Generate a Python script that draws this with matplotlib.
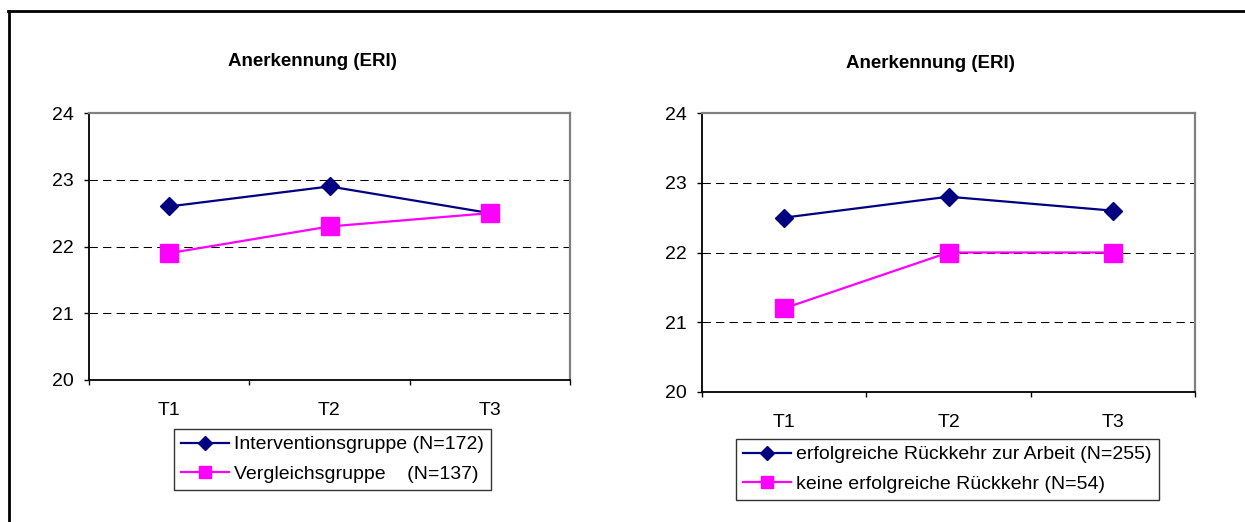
import matplotlib
matplotlib.use("Agg")
import matplotlib.pyplot as plt
from matplotlib.lines import Line2D

plt.rcParams['font.family'] = ['Liberation Sans', 'DejaVu Sans']

# Data
times = ["T1", "T2", "T3"]
yticks = [20, 21, 22, 23, 24]
title = "Anerkennung (ERI)"

left_labels = ["Interventionsgruppe (N=172)", "Vergleichsgruppe    (N=137)"]
left_interv = [22.6, 22.9, 22.5]
left_vergl = [21.9, 22.3, 22.5]

right_labels = ["erfolgreiche Rückkehr zur Arbeit (N=255)",
                "keine erfolgreiche Rückkehr (N=54)"]
right_success = [22.5, 22.8, 22.6]
right_nosuccess = [21.2, 22.0, 22.0]

NAVY = "#000080"
MAGENTA = "#FF00FF"
FS = 14

W, H = 1245, 522
fig = plt.figure(figsize=(W / 100, H / 100), dpi=100)


def px_axes(x0, y0, x1, y1):
    return fig.add_axes([x0 / W, 1 - y1 / H, (x1 - x0) / W, (y1 - y0) / H])


def draw_panel(ax, s1, s2, labels, title_xy, legend_xy):
    x = list(range(len(times)))
    ax.plot(x, s1, color=NAVY, lw=1.6, marker="D", ms=9.2, mfc=NAVY, mec=NAVY, zorder=3)
    ax.plot(x, s2, color=MAGENTA, lw=1.6, marker="s", ms=12.5, mfc=MAGENTA, mec=MAGENTA, zorder=3)
    ax.set_xlim(-0.5, len(times) - 0.5)
    ax.set_ylim(yticks[0], yticks[-1])
    ax.set_yticks(yticks)
    ax.set_yticklabels([str(v) for v in yticks], fontsize=FS)
    for v in yticks[1:-1]:
        ax.axhline(v, color="black", lw=0.75, ls=(0, (8, 5)), zorder=1)
    # category boundary ticks on x, labels at centers
    ax.set_xticks([i - 0.5 for i in range(len(times) + 1)])
    ax.set_xticklabels([])
    ax.set_xticks(x, minor=True)
    ax.set_xticklabels(times, minor=True, fontsize=FS)
    ax.tick_params(axis="x", which="minor", length=0, pad=16)
    ax.tick_params(axis="x", which="major", length=3.8, width=1, direction="out")
    ax.tick_params(axis="y", length=3.8, width=1, direction="out", pad=7)
    for side in ("left", "bottom"):
        ax.spines[side].set_color("black")
        ax.spines[side].set_linewidth(1.3)
    for side in ("top", "right"):
        ax.spines[side].set_color("#808080")
        ax.spines[side].set_linewidth(1.6)
    fig.text(title_xy[0] / W, 1 - title_xy[1] / H, title, ha="center", va="center",
             fontsize=13.5, fontweight="bold")
    handles = [
        Line2D([], [], color=NAVY, lw=1.6, marker="D", ms=7, mfc=NAVY, mec=NAVY),
        Line2D([], [], color=MAGENTA, lw=1.6, marker="s", ms=8.5, mfc=MAGENTA, mec=MAGENTA),
    ]
    leg = fig.legend(handles, labels, loc="upper left",
                     bbox_to_anchor=(legend_xy[0] / W, 1 - legend_xy[1] / H),
                     fontsize=FS, frameon=True, fancybox=False, borderaxespad=0,
                     handlelength=2.5, handletextpad=0.25, borderpad=0.35,
                     labelspacing=0.6, edgecolor="black")
    leg.get_frame().set_linewidth(1.0)


ax1 = px_axes(89, 113, 570, 380)
draw_panel(ax1, left_interv, left_vergl, left_labels, (312, 62), (174, 429))

ax2 = px_axes(702, 113, 1195, 392)
draw_panel(ax2, right_success, right_nosuccess, right_labels, (930, 63), (736, 439))

# outer frame: top and left edges
fig.add_artist(Line2D([8 / W, 1], [1 - 11 / H, 1 - 11 / H], color="black", lw=2,
                      transform=fig.transFigure))
fig.add_artist(Line2D([8.5 / W, 8.5 / W], [0, 1 - 11 / H], color="black", lw=2,
                      transform=fig.transFigure))

fig.savefig("out.png", dpi=100)
